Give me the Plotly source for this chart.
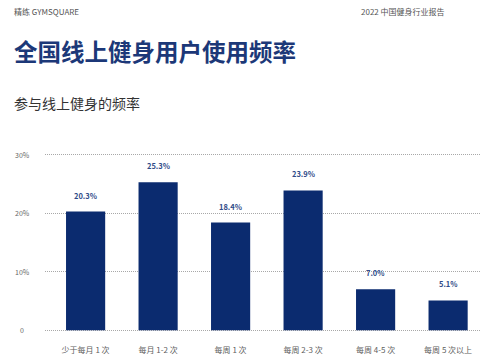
import plotly.graph_objects as go

categories = ["少于每月 1 次", "每月 1-2 次", "每周 1 次", "每周 2-3 次", "每周 4-5 次", "每周 5 次以上"]
values = [20.3, 25.3, 18.4, 23.9, 7.0, 5.1]
tick_vals = [0, 10, 20, 30]
tick_text = ["0", "10%", "20%", "30%"]

font_cn = "Noto Sans CJK SC, Noto Sans, sans-serif"
bar_color = "#0b2b6f"
title_color = "#1c3878"

W, H = 500, 360
y_lo, y_hi = -0.3, 30.3
ppu = 175 / 30.0
L, R = 45, 20
T = 155 - (y_hi - 30) * ppu
B = H - 330 - (0 - y_lo) * ppu
plot_w = W - L - R
plot_h = H - T - B

fig = go.Figure()
fig.add_trace(go.Bar(
    x=categories, y=values,
    marker=dict(color=bar_color, line=dict(width=0)),
    width=0.54,
    hoverinfo="x+y",
))

fig.update_layout(
    width=W, height=H,
    margin=dict(l=L, r=R, t=T, b=B, autoexpand=False),
    paper_bgcolor="white", plot_bgcolor="white",
    showlegend=False,
    font=dict(family=font_cn, color="#555555"),
    xaxis=dict(
        tickfont=dict(size=8, color="#606060"),
        showgrid=False, showline=False, ticks="",
        range=[-0.56, 5.44], ticklabelstandoff=12,
    ),
    yaxis=dict(
        range=[y_lo, y_hi], tickvals=tick_vals, showticklabels=False,
        showgrid=True, gridcolor="#a8a8a8", griddash="1px,1px", gridwidth=1,
        zeroline=False, showline=False, ticks="",
    ),
)

def px(xp):
    return (xp - L) / plot_w

def py(yp):
    return (H - B - yp) / plot_h

ann = [
    dict(text="精练 GYMSQUARE", x=px(12), y=py(12), xanchor="left", font=dict(size=8, color="#555555")),
    dict(text="2022 中国健身行业报告", x=px(447), y=py(12), xanchor="right", font=dict(size=8, color="#555555")),
    dict(text="<b>全国线上健身用户使用频率</b>", x=px(12), y=py(52), xanchor="left", font=dict(size=23.5, color=title_color)),
    dict(text="参与线上健身的频率", x=px(12), y=py(103), xanchor="left", font=dict(size=14, color="#333333")),
]
for a in ann:
    a.update(xref="paper", yref="paper", yanchor="middle", showarrow=False)
    fig.add_annotation(**a)

for v, t in zip(tick_vals, tick_text):
    fig.add_annotation(text=t, x=px(22), y=v, xref="paper", yref="y", xanchor="center",
                       yanchor="middle", showarrow=False, font=dict(size=7, color="#666666"))

for c, v in zip(categories, values):
    fig.add_annotation(text=f"<b>{v:.1f}%</b>", x=c, y=v, xref="x", yref="y", xanchor="center",
                       yanchor="bottom", yshift=9, showarrow=False,
                       font=dict(size=7.5, color="#2f4b88"))

fig.write_html("out.html", config={"displayModeBar": False},
               post_script="document.body.style.margin='0';")
